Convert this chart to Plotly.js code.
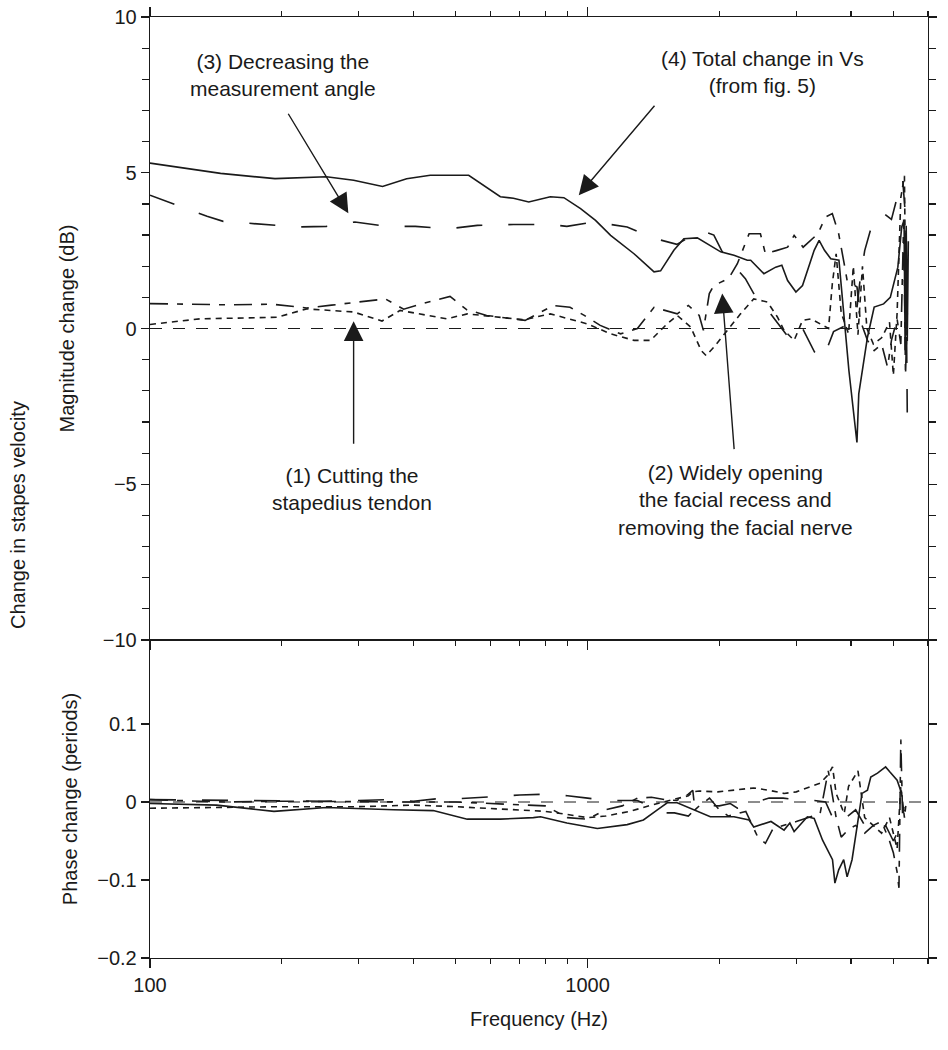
<!DOCTYPE html>
<html><head><meta charset="utf-8">
<script src="https://cdn.plot.ly/plotly-3.0.1.min.js"></script>
<style>html,body{margin:0;padding:0;background:#fff;}#chart{width:948px;height:1050px;}</style>
</head><body><div id="chart"></div>
<script>
// ---------- Magnitude change (dB) ----------
const totalF  = [100,145,193,253,292,340,386,437,535,632,677,734,822,883,964,1043,1129,1277,1419,1469,1575,1660,1782,1879,2015,2161,2318,2360,2530,2692,2780,2866,2994,3100,3296,3383,3480,3597,3755,3957,4128,4168,4363,4520,4750,4920,5120,5225,5290,5320,5350,5380,5410];
const totalDb = [5.31,4.98,4.81,4.87,4.76,4.56,4.81,4.92,4.92,4.23,4.18,4.06,4.23,4.20,3.85,3.47,2.99,2.40,1.82,1.85,2.51,2.88,2.91,2.72,2.46,2.35,2.19,2.19,1.76,1.97,2.03,1.54,1.17,1.38,2.51,2.83,2.51,2.24,2.19,-1.35,-3.66,-2.10,-0.28,0.69,0.79,1.00,1.97,3.26,3.47,-0.70,3.30,-0.40,2.80];

const angleF  = [100,115,135,147,185,217,253,294,348,404,482,560,677,760,822,897,1033,1232,1407,1600,1819,1944,2032,2295,2398,2484,2650,2850,3050,3300,3450,3650,3900,4100,4200,4300,4420,4550,4750,4950,5120,5250,5330,5380];
const angleDb = [4.28,3.96,3.60,3.44,3.34,3.26,3.28,3.42,3.28,3.28,3.20,3.31,3.34,3.34,3.34,3.28,3.42,3.26,2.91,2.70,3.15,3.00,2.46,1.60,1.12,0.90,0.40,-0.20,0.20,-0.75,-1.00,-0.10,0.10,0.30,1.60,2.50,3.10,3.60,3.70,3.50,4.30,4.80,3.60,-2.70];

const recessF  = [100,150,190,228,260,300,345,380,420,485,530,588,720,835,912,983,1069,1190,1300,1419,1500,1603,1700,1800,1840,1898,1944,2100,2200,2340,2484,2550,2700,2866,2966,3110,3360,3500,3626,3750,3860,3920,4130,4200,4363,4520,4700,4850,4950,5100,5200,5280,5330,5380];
const recessDb = [0.80,0.76,0.78,0.66,0.75,0.85,0.95,0.62,0.80,1.03,0.60,0.42,0.26,0.74,0.68,0.42,0.10,-0.17,0.00,0.68,0.58,0.47,0.74,0.42,-0.06,1.12,1.38,1.60,2.08,3.04,3.04,2.40,2.50,2.61,2.99,2.61,3.04,3.58,3.69,3.04,2.08,1.54,1.33,0.26,-0.38,-0.71,-0.50,-1.24,-0.38,0.30,-0.50,3.50,-1.50,0.50];

const stapF  = [100,130,195,228,292,339,373,420,477,531,600,715,822,998,1129,1277,1393,1521,1603,1722,1819,1866,1944,2082,2237,2398,2577,2716,2813,2966,3100,3240,3400,3555,3626,3700,3800,3950,4050,4150,4250,4350,4500,4700,4900,5000,5100,5200,5300,5350];
const stapDb = [0.13,0.31,0.36,0.63,0.53,0.24,0.58,0.45,0.31,0.47,0.40,0.28,0.47,0.15,-0.17,-0.38,-0.38,0.15,0.42,0.04,-0.71,-0.87,-0.60,-0.06,0.47,0.95,0.85,0.37,-0.06,-0.38,0.26,0.31,0.15,0.00,1.43,2.40,0.50,-0.17,2.00,-0.20,2.00,0.00,-0.50,-0.30,0.20,-1.50,0.50,4.20,4.90,-0.50];

// ---------- Phase change (periods) ----------
const totalPhF = [100,142,192,253,360,444,531,632,752,781,897,1053,1232,1342,1444,1521,1603,1908,2161,2340,2398,2626,2813,2900,2966,3180,3296,3445,3630,3676,3750,3850,3920,4023,4130,4240,4363,4440,4600,4800,4900,5100,5225];
const totalPh  = [-0.002,-0.004,-0.012,-0.007,-0.010,-0.011,-0.022,-0.022,-0.020,-0.019,-0.027,-0.034,-0.029,-0.023,-0.010,-0.001,-0.001,-0.019,-0.019,-0.023,-0.032,-0.025,-0.036,-0.027,-0.038,-0.019,-0.021,-0.049,-0.074,-0.104,-0.087,-0.074,-0.096,-0.074,-0.032,0.011,0.015,0.032,0.037,0.045,0.039,0.028,0.011];

const anglePhF = [100,150,200,250,300,350,400,450,500,600,700,800,900,1000,1100,1300,1500,1580,1700,1800,2000,2120,2200,2400,2600,2800,3000,3300,3500,3700,3900,4100,4300,4500,4800,5000,5200,5300];
const anglePh  = [0.003,0.002,0.002,0.001,0.002,0.003,0.001,0.004,0.004,0.007,0.009,0.010,0.008,0.005,0.002,0.002,-0.014,-0.014,-0.018,-0.004,-0.005,-0.002,-0.008,-0.001,0.005,0.005,0.003,0.002,0.000,-0.030,-0.020,-0.010,-0.030,-0.040,-0.030,-0.050,-0.030,-0.010];

const recessPhF = [100,150,200,300,400,500,600,700,800,900,1000,1100,1200,1300,1400,1500,1600,1700,1740,1760,1800,1900,2000,2100,2300,2450,2550,2650,2800,3000,3200,3400,3550,3700,3800,3950,4100,4300,4500,4700,4900,5000,5100,5150,5200,5250,5300];
const recessPh  = [0.003,0.000,0.001,0.000,0.000,0.000,-0.002,-0.004,-0.005,-0.020,-0.022,-0.010,-0.005,0.005,0.006,0.003,0.002,0.010,0.015,-0.010,-0.005,0.005,-0.010,-0.018,-0.012,-0.045,-0.053,-0.035,-0.030,-0.025,-0.020,-0.015,0.040,-0.020,-0.045,-0.035,-0.030,-0.040,-0.030,-0.025,-0.050,-0.065,-0.090,-0.110,0.080,-0.020,0.000];

const stapPhF = [100,150,200,300,400,500,600,700,800,900,1000,1100,1250,1400,1500,1600,1700,1740,1800,1985,2200,2398,2600,2813,3000,3180,3400,3550,3630,3700,3860,3950,4050,4150,4300,4500,4700,4900,5100,5200,5300,5350];
const stapPh  = [-0.008,-0.007,-0.006,-0.006,-0.004,-0.006,-0.008,-0.010,-0.012,-0.016,-0.020,-0.018,-0.012,-0.004,0.000,0.004,0.008,0.013,0.014,0.013,0.016,0.018,0.015,0.011,0.013,0.018,0.024,0.035,0.045,0.011,-0.015,0.020,0.030,0.040,-0.020,-0.030,-0.040,-0.020,-0.060,0.020,-0.020,0.000];

// ---------- axes ----------
const xMajorTicks = [100, 1000];
const xMajorLabels = ['100', '1000'];
const xMinorTicks = [200,300,400,500,600,700,800,900,2000,3000,4000,5000,6000];
const magTicks = [-10, -5, 0, 5, 10];
const phaseTicks = [-0.2, -0.1, 0, 0.1];

const INK = '#1a1a1a';
const FONT = 'Liberation Sans, Arial, sans-serif';
const styles = {
  total:  {color: INK, width: 1.6, dash: 'solid'},
  angle:  {color: INK, width: 1.6, dash: '26px,26px'},
  recess: {color: INK, width: 1.6, dash: '18px,9px,6px,9px'},
  stap:   {color: INK, width: 1.6, dash: '6px,5px'}
};
function tr(x, y, st, xa, ya) {
  return {x: x, y: y, type: 'scatter', mode: 'lines', line: st, xaxis: xa, yaxis: ya, showlegend: false, hoverinfo: 'skip'};
}
const data = [
  tr(angleF, angleDb, styles.angle, 'x', 'y'),
  tr(recessF, recessDb, styles.recess, 'x', 'y'),
  tr(stapF, stapDb, styles.stap, 'x', 'y'),
  tr(totalF, totalDb, styles.total, 'x', 'y'),
  tr(anglePhF, anglePh, styles.angle, 'x2', 'y2'),
  tr(recessPhF, recessPh, styles.recess, 'x2', 'y2'),
  tr(stapPhF, stapPh, styles.stap, 'x2', 'y2'),
  tr(totalPhF, totalPh, styles.total, 'x2', 'y2')
];

const split = 318 / 941;
const xRange = [2, Math.log10(6000)];
const axCommon = {showline: true, linecolor: INK, linewidth: 1.3, showgrid: false, zeroline: false,
  ticks: 'outside', tickcolor: INK, tickwidth: 1.2, tickfont: {family: FONT, size: 20, color: INK}};
const arrowStyle = {text: '', showarrow: true, arrowhead: 2, arrowsize: 2.8, arrowwidth: 1.4, arrowcolor: INK, xref: 'x', yref: 'y'};

const layout = {
  width: 948, height: 1050,
  margin: {l: 150, r: 20, t: 17, b: 92},
  paper_bgcolor: '#fff', plot_bgcolor: '#fff',
  font: {family: FONT, color: INK, size: 20},
  showlegend: false,
  xaxis: Object.assign({}, axCommon, {type: 'log', range: xRange, domain: [0, 1], anchor: 'y',
    mirror: 'ticks', ticklen: 9, tickvals: xMajorTicks, showticklabels: false,
    minor: {tickvals: xMinorTicks, ticks: 'outside', ticklen: 5, tickwidth: 1.2, tickcolor: INK, showgrid: false}}),
  yaxis: Object.assign({}, axCommon, {range: [-10, 10], domain: [split, 1], anchor: 'x',
    mirror: 'ticks', ticklen: 8, tickvals: magTicks,
    minor: {dtick: 1, ticks: 'outside', ticklen: 7, tickwidth: 1.2, tickcolor: INK, showgrid: false},
    title: {text: 'Magnitude change (dB)', font: {family: FONT, size: 20, color: INK}, standoff: 22}}),
  xaxis2: Object.assign({}, axCommon, {type: 'log', range: xRange, domain: [0, 1], anchor: 'y2',
    mirror: true, ticklen: 9, tickvals: xMajorTicks, ticktext: xMajorLabels,
    minor: {tickvals: xMinorTicks, ticks: 'outside', ticklen: 5, tickwidth: 1.2, tickcolor: INK, showgrid: false},
    title: {text: 'Frequency (Hz)', font: {family: FONT, size: 20, color: INK}, standoff: 16}}),
  yaxis2: Object.assign({}, axCommon, {range: [-0.2, 0.2077], domain: [0, split], anchor: 'x2',
    mirror: 'ticks', ticklen: 8, tickvals: phaseTicks,
    title: {text: 'Phase change (periods)', font: {family: FONT, size: 20, color: INK}, standoff: 14}}),
  shapes: [
    {type: 'line', xref: 'x domain', x0: 0, x1: 1, yref: 'y', y0: 0, y1: 0, layer: 'below', line: {color: INK, width: 1, dash: '12px,11px'}},
    {type: 'line', xref: 'x2 domain', x0: 0, x1: 1, yref: 'y2', y0: 0, y1: 0, layer: 'below', line: {color: INK, width: 1, dash: '12px,11px'}}
  ],
  annotations: [
    {xref: 'paper', yref: 'paper', x: 0, y: (958 - 515) / 941, xshift: -132, text: 'Change in stapes velocity', textangle: -90,
     showarrow: false, xanchor: 'center', yanchor: 'middle', font: {family: FONT, size: 20, color: INK}},
    {xref: 'x', yref: 'y', x: Math.log10(201), y: 8.15, text: '(3) Decreasing the<br>measurement angle', showarrow: false,
     xanchor: 'center', yanchor: 'middle', font: {family: FONT, size: 21, color: INK}},
    {xref: 'x', yref: 'y', x: Math.log10(2512), y: 8.25, text: '(4) Total change in Vs<br>(from fig. 5)', showarrow: false,
     xanchor: 'center', yanchor: 'middle', font: {family: FONT, size: 21, color: INK}},
    {xref: 'x', yref: 'y', x: Math.log10(290), y: -5.15, text: '(1) Cutting the<br>stapedius tendon', showarrow: false,
     xanchor: 'center', yanchor: 'middle', font: {family: FONT, size: 21, color: INK}},
    {xref: 'x', yref: 'y', x: Math.log10(2180), y: -5.5, text: '(2) Widely opening<br>the facial recess and<br>removing the facial nerve', showarrow: false,
     xanchor: 'center', yanchor: 'middle', font: {family: FONT, size: 21, color: INK}},
    Object.assign({}, arrowStyle, {x: Math.log10(284), y: 3.70, ax: -61, ay: -101}),
    Object.assign({}, arrowStyle, {x: Math.log10(955), y: 4.28, ax: 77, ay: -91}),
    Object.assign({}, arrowStyle, {x: Math.log10(292), y: 0.23, ax: 0, ay: 124}),
    Object.assign({}, arrowStyle, {x: Math.log10(2032), y: 1.12, ax: 12, ay: 157})
  ]
};

Plotly.newPlot('chart', data, layout, {staticPlot: true, displayModeBar: false});
</script></body></html>
